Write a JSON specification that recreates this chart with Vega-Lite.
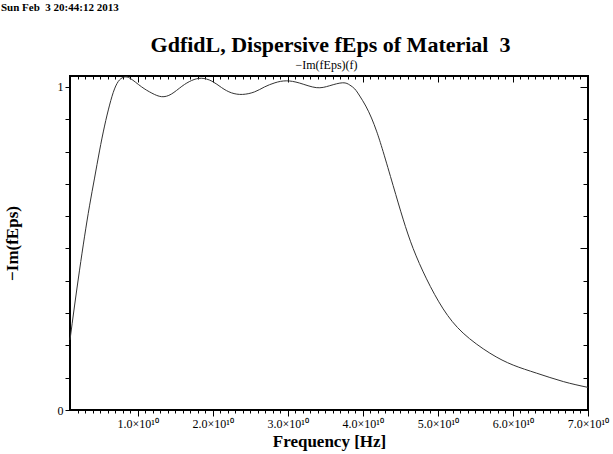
{
  "$schema": "https://vega.github.io/schema/vega-lite/v6.json",
  "width": 518,
  "height": 334,
  "autosize": "none",
  "padding": {"left": 70, "top": 76, "right": 25, "bottom": 44},
  "background": "white",
  "title": {
    "text": "Sun Feb\u00a0 3 20:44:12 2013",
    "font": "Liberation Serif",
    "fontSize": 11,
    "fontWeight": "bold",
    "color": "black",
    "anchor": "start",
    "frame": "bounds",
    "offset": 20,
    "dx": -2
  },
  "data": {
    "values": [
      {"f": 1.0e9, "v": 0.217}, {"f": 1.6e9, "v": 0.322}, {"f": 2.27e9, "v": 0.433},
      {"f": 2.93e9, "v": 0.536}, {"f": 3.6e9, "v": 0.632}, {"f": 4.27e9, "v": 0.718},
      {"f": 4.93e9, "v": 0.802}, {"f": 5.6e9, "v": 0.879}, {"f": 6.27e9, "v": 0.944},
      {"f": 6.93e9, "v": 0.994}, {"f": 7.6e9, "v": 1.022}, {"f": 8.27e9, "v": 1.031},
      {"f": 9.07e9, "v": 1.026}, {"f": 10.5e9, "v": 1.001}, {"f": 11.9e9, "v": 0.981},
      {"f": 13.2e9, "v": 0.97}, {"f": 14.5e9, "v": 0.978}, {"f": 15.9e9, "v": 1.002},
      {"f": 17.2e9, "v": 1.02}, {"f": 18.5e9, "v": 1.027}, {"f": 19.9e9, "v": 1.018},
      {"f": 21.2e9, "v": 0.998}, {"f": 22.5e9, "v": 0.982}, {"f": 24.0e9, "v": 0.977},
      {"f": 25.6e9, "v": 0.985}, {"f": 26.9e9, "v": 1.0}, {"f": 28.3e9, "v": 1.013},
      {"f": 29.8e9, "v": 1.019}, {"f": 31.6e9, "v": 1.012}, {"f": 33.8e9, "v": 0.998},
      {"f": 35.6e9, "v": 1.004}, {"f": 37.33e9, "v": 1.013}, {"f": 38.27e9, "v": 1.006},
      {"f": 38.93e9, "v": 0.994}, {"f": 39.6e9, "v": 0.972}, {"f": 40.4e9, "v": 0.941},
      {"f": 41.16e9, "v": 0.904}, {"f": 41.87e9, "v": 0.861}, {"f": 42.71e9, "v": 0.8},
      {"f": 44.04e9, "v": 0.695}, {"f": 45.37e9, "v": 0.591}, {"f": 46.71e9, "v": 0.5},
      {"f": 48.49e9, "v": 0.406}, {"f": 50.71e9, "v": 0.313}, {"f": 53.37e9, "v": 0.238},
      {"f": 56.93e9, "v": 0.176}, {"f": 60.04e9, "v": 0.139}, {"f": 63.16e9, "v": 0.114},
      {"f": 66.71e9, "v": 0.088}, {"f": 70.0e9, "v": 0.07}
    ]
  },
  "layer": [
    {
      "mark": {"type": "line", "color": "#333333", "strokeWidth": 1, "interpolate": "natural"},
      "encoding": {
        "x": {
          "field": "f", "type": "quantitative",
          "scale": {"domain": [1e9, 7e10], "nice": false, "zero": false},
          "axis": {
            "orient": "bottom",
            "values": [1e10, 2e10, 3e10, 4e10, 5e10, 6e10, 7e10],
            "labelExpr": "format(datum.value / 1e10, '.1f') + '\u00d710\u00b9\u2070'",
            "labelFontSize": 12,
            "tickSize": 6,
            "labelPadding": 2,
            "labelFlush": false,
            "labelOverlap": false,
            "title": "Frequency [Hz]",
            "titleFontSize": 17,
            "titleFontWeight": "bold",
            "titlePadding": 4
          }
        },
        "y": {
          "field": "v", "type": "quantitative",
          "scale": {"domain": [0, 1.034], "nice": false},
          "axis": {
            "orient": "left",
            "values": [0, 1],
            "labelExpr": "datum.value",
            "tickSize": 5,
            "labelPadding": 2,
            "labelFontSize": 12,
            "title": "\u2212Im(fEps)",
            "titleFontSize": 17,
            "titleFontWeight": "bold",
            "titlePadding": 36
          }
        }
      }
    },
    {
      "mark": {"type": "line", "strokeOpacity": 0},
      "encoding": {
        "x": {
          "field": "f", "type": "quantitative",
          "axis": {
            "orient": "bottom",
            "values": [2e9,3e9,4e9,5e9,6e9,7e9,8e9,9e9,11e9,12e9,13e9,14e9,15e9,16e9,17e9,18e9,19e9,21e9,22e9,23e9,24e9,25e9,26e9,27e9,28e9,29e9,31e9,32e9,33e9,34e9,35e9,36e9,37e9,38e9,39e9,41e9,42e9,43e9,44e9,45e9,46e9,47e9,48e9,49e9,51e9,52e9,53e9,54e9,55e9,56e9,57e9,58e9,59e9,61e9,62e9,63e9,64e9,65e9,66e9,67e9,68e9,69e9],
            "labels": false,
            "tickSize": 3,
            "title": null
          }
        },
        "y": {
          "field": "v", "type": "quantitative",
          "axis": {
            "orient": "left",
            "values": [0.1, 0.2, 0.3, 0.4, 0.5, 0.6, 0.7, 0.8, 0.9],
            "labels": false,
            "tickSize": 5,
            "title": null
          }
        }
      }
    },
    {
      "mark": {"type": "line", "strokeOpacity": 0},
      "encoding": {
        "x": {
          "field": "f", "type": "quantitative",
          "axis": {
            "orient": "top",
            "values": [2e9,3e9,4e9,5e9,6e9,7e9,8e9,9e9,11e9,12e9,13e9,14e9,15e9,16e9,17e9,18e9,19e9,21e9,22e9,23e9,24e9,25e9,26e9,27e9,28e9,29e9,31e9,32e9,33e9,34e9,35e9,36e9,37e9,38e9,39e9,41e9,42e9,43e9,44e9,45e9,46e9,47e9,48e9,49e9,51e9,52e9,53e9,54e9,55e9,56e9,57e9,58e9,59e9,61e9,62e9,63e9,64e9,65e9,66e9,67e9,68e9,69e9],
            "labels": false,
            "tickSize": -3,
            "title": "GdfidL, Dispersive fEps of Material\u00a0 3",
            "titleFontSize": 22,
            "titleFontWeight": "bold",
            "titleAlign": "center",
            "titleBaseline": "alphabetic",
            "titleX": 260,
            "titleY": -25
          }
        },
        "y": {
          "field": "v", "type": "quantitative",
          "axis": {
            "orient": "right",
            "values": [0.1, 0.2, 0.3, 0.4, 0.6, 0.7, 0.8, 0.9],
            "labels": false,
            "tickSize": -5,
            "title": null
          }
        }
      }
    },
    {
      "mark": {"type": "line", "strokeOpacity": 0},
      "encoding": {
        "x": {
          "field": "f", "type": "quantitative",
          "axis": {
            "orient": "top",
            "values": [1e10, 2e10, 3e10, 4e10, 5e10, 6e10],
            "labels": false,
            "tickSize": -6,
            "title": "\u2212Im(fEps)(f)",
            "titleFontSize": 12,
            "titleFontWeight": "normal",
            "titleAlign": "center",
            "titleBaseline": "alphabetic",
            "titleX": 256,
            "titleY": -8
          }
        },
        "y": {
          "field": "v", "type": "quantitative",
          "axis": {
            "orient": "right",
            "values": [0.5, 1],
            "labels": false,
            "tickSize": -8,
            "title": null
          }
        }
      }
    }
  ],
  "resolve": {"axis": {"x": "independent", "y": "independent"}},
  "config": {
    "view": {"stroke": "black", "strokeWidth": 2},
    "axis": {
      "domain": false,
      "grid": false,
      "ticks": true,
      "tickColor": "black",
      "tickWidth": 1,
      "labelFont": "Liberation Serif",
      "labelFontSize": 11,
      "labelColor": "black",
      "titleFont": "Liberation Serif",
      "titleColor": "black"
    }
  }
}
